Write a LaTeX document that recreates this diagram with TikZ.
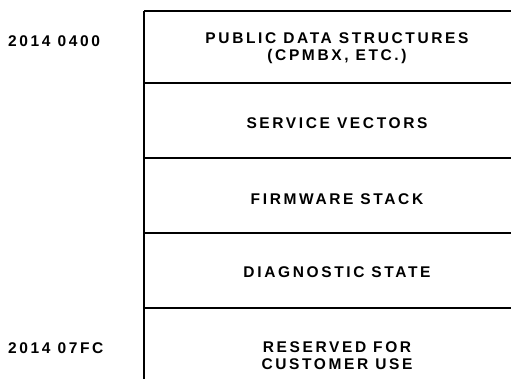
\documentclass[tikz,border=0pt]{standalone}
\usepackage{fontspec}
\setmainfont{Liberation Sans}[LetterSpace=17]
\begin{document}
\begin{tikzpicture}[x=1pt,y=-1pt,
  lbl/.style={font=\bfseries\fontsize{15.5}{17}\selectfont, align=center, inner sep=0pt},
  addr/.style={font=\bfseries\fontsize{15.5}{17}\selectfont, anchor=west, inner sep=0pt},
  rule/.style={line width=1.6pt}]
\useasboundingbox (0,0) rectangle (511,379);
\coordinate (tl) at (144,11);
\coordinate (tr) at (511,11);
\coordinate (bl) at (144,379);
\draw[line width=2.4pt] (tr) -- (tl);
\draw[rule] (tl) -- (bl);
\foreach \y/\n in {83/a,158/b,233/c,308/d}{
  \coordinate (l\n) at (144,\y);
  \coordinate (r\n) at (511,\y);
  \draw[rule] (l\n) -- (r\n);
}
\node[lbl] (pub) at (337,48) {PUBLIC DATA STRUCTURES\\(CPMBX, ETC.)};
\node[lbl] (svc) at (337,123.5) {SERVICE VECTORS};
\node[lbl] (fws) at (337,199.5) {FIRMWARE STACK};
\node[lbl] (dia) at (337,272.5) {DIAGNOSTIC STATE};
\node[lbl] (res) at (337,356) {RESERVED FOR\\CUSTOMER USE};
\node[addr] (a1) at (8,41.5) {2014 0400};
\node[addr] (a2) at (8,348.5) {2014 07FC};
\end{tikzpicture}
\end{document}
